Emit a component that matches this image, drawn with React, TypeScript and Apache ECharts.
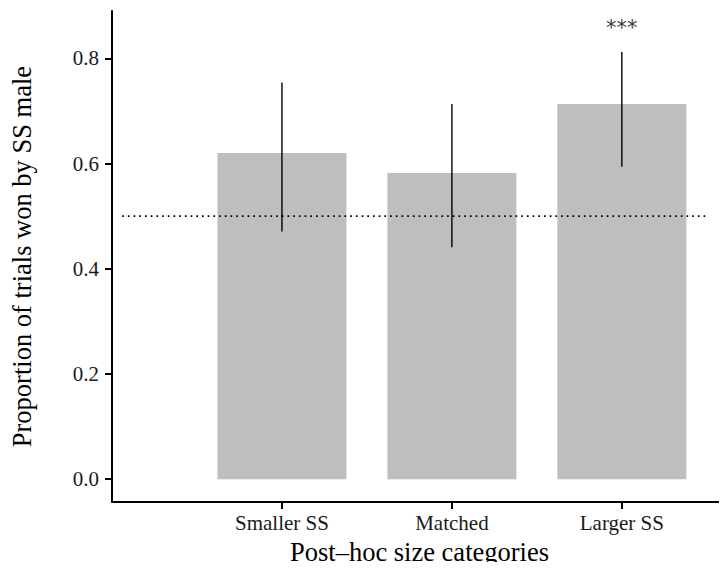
import React, { useEffect, useRef } from "react";
import * as echarts from "echarts";

const categories = ["Smaller SS", "Matched", "Larger SS"];
const proportions = [0.62, 0.582, 0.713];
const ciLower = [0.471, 0.441, 0.594];
const ciUpper = [0.754, 0.713, 0.812];
const sigLabels = ["", "", "***"];
const sigY = [0.858, 0.858, 0.858];
const yTicks = [0, 0.2, 0.4, 0.6, 0.8];
const xTicks = [1, 2, 3];
const refLevel = 0.5;
const refStartEnd = [0.06, 3.51];

const FONT = "'Liberation Serif', 'Times New Roman', serif";

export default function App() {
  const ref = useRef<HTMLDivElement>(null);
  useEffect(() => {
    if (!ref.current) return;
    const chart = echarts.init(ref.current, undefined, { renderer: "svg" });
    const barData = proportions.map((v, i) => [i + 1, v]);
    const errData = proportions.map((_, i) => [i + 1, ciLower[i], ciUpper[i]]);
    const sigData = sigLabels.map((s, i) => ({ value: [i + 1, sigY[i]], label: s }));
    chart.setOption({
      animation: false,
      backgroundColor: "#ffffff",
      textStyle: { fontFamily: FONT },
      grid: { left: 110, right: 0, top: 11, bottom: 65 },
      xAxis: {
        type: "value",
        min: 0,
        max: 617 / 170.5,
        name: "Post\u2013hoc size categories",
        nameLocation: "middle",
        nameGap: 33,
        nameTextStyle: { fontFamily: FONT, fontSize: 26.5, color: "#000" },
        axisLine: { show: true, onZero: false, lineStyle: { color: "#000", width: 2 } },
        axisTick: { show: true, length: 7, customValues: xTicks, lineStyle: { color: "#000", width: 2 } },
        axisLabel: {
          show: true,
          customValues: xTicks,
          margin: 10,
          fontFamily: FONT,
          fontSize: 21,
          color: "#1a1a1a",
          formatter: (v: number) => categories[Math.round(v) - 1] ?? "",
        },
        splitLine: { show: false },
      },
      yAxis: {
        type: "value",
        min: -0.0435,
        max: 0.89,
        name: "Proportion of trials won by SS male",
        nameLocation: "middle",
        nameGap: 77,
        nameRotate: 90,
        nameTextStyle: { fontFamily: FONT, fontSize: 26.5, color: "#000" },
        axisLine: { show: true, onZero: false, lineStyle: { color: "#000", width: 2 } },
        axisTick: { show: true, length: 7, customValues: yTicks, lineStyle: { color: "#000", width: 2 } },
        axisLabel: {
          show: true,
          customValues: yTicks,
          margin: 13,
          fontFamily: FONT,
          fontSize: 21,
          color: "#1a1a1a",
          formatter: (v: number) => v.toFixed(1),
        },
        splitLine: { show: false },
      },
      series: [
        {
          type: "bar",
          data: barData,
          barWidth: 129,
          itemStyle: { color: "#bebebe" },
          silent: true,
        },
        {
          type: "line",
          data: [
            [refStartEnd[0], refLevel],
            [refStartEnd[1], refLevel],
          ],
          symbol: "none",
          lineStyle: { color: "#000", width: 1.7, type: [1.7, 4] },
          silent: true,
          z: 3,
        },
        {
          type: "custom",
          data: errData,
          z: 4,
          renderItem: (params: any, api: any) => {
            const x = api.value(0);
            const p1 = api.coord([x, api.value(1)]);
            const p2 = api.coord([x, api.value(2)]);
            return {
              type: "line",
              shape: { x1: p1[0], y1: p1[1], x2: p2[0], y2: p2[1] },
              style: { stroke: "#000", lineWidth: 1.4 },
            };
          },
          silent: true,
        },
        {
          type: "scatter",
          data: sigData,
          symbolSize: 0,
          silent: true,
          label: {
            show: true,
            position: "inside",
            formatter: (p: any) => p.data.label,
            fontFamily: "'DejaVu Sans', sans-serif",
            fontSize: 21,
            color: "#000",
          },
        },
      ],
    });
    return () => chart.dispose();
  }, []);
  return <div ref={ref} style={{ width: 727, height: 570, margin: -8 }} />;
}
